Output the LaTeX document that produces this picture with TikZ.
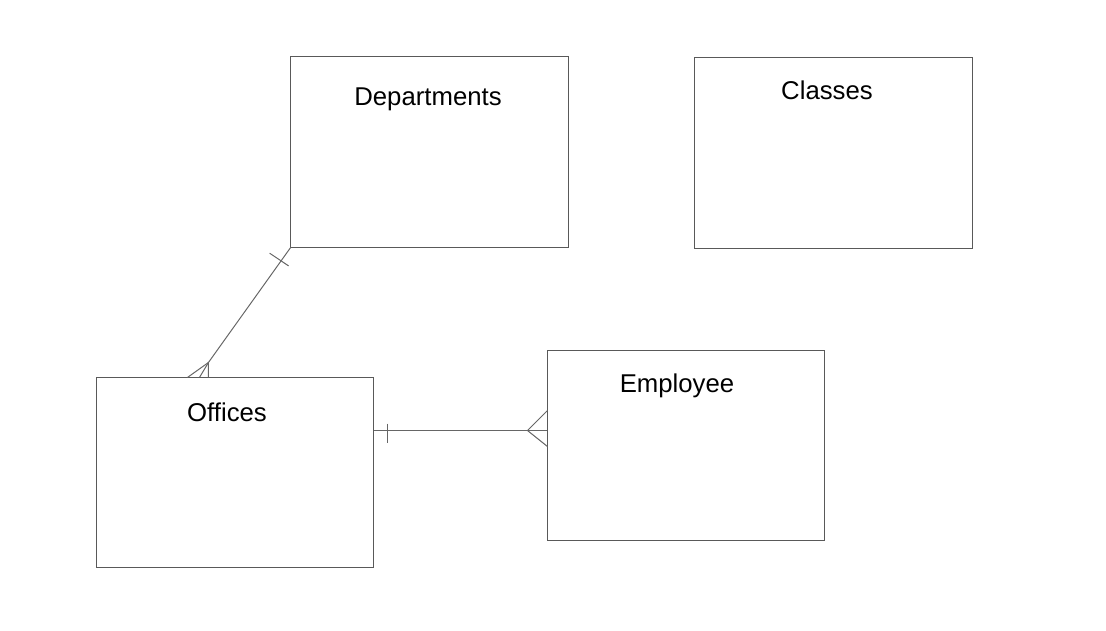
\documentclass[tikz,border=0pt]{standalone}
\usepackage{fontspec}
\setmainfont{Liberation Sans}
\usetikzlibrary{calc,positioning}

\begin{document}
\begin{tikzpicture}[x=0.025cm,y=-0.025cm,
    entity/.style={draw=black!65,line width=0.7pt,inner sep=0pt,outer sep=0pt,
                   minimum width=6.925cm,minimum height=4.75cm},
    title/.style={font=\fontsize{18.3}{22}\selectfont,inner sep=0pt},
    rel/.style={draw=black!60,line width=0.7pt}]
    \useasboundingbox (0,0) rectangle (1106,631);

    % tables
    \node[entity] (dep) at (429.5,152) {};
    \node[entity] (cls) at (833.5,153) {};
    \node[entity] (off) at (235,472.5) {};
    \node[entity] (emp) at (686,445.5) {};

    \node[title] (deplabel) at (428,99.5) {Departments};
    \node[title] (clslabel) at (827,90) {Classes};
    \node[title] (offlabel) at (227,412) {Offices};
    \node[title] (emplabel) at (677,386) {Employee};

    % Departments -- Offices
    \coordinate (offtop) at ($(off.north west)+(112,0)$);
    \coordinate (offfoot) at ($(offtop)+(0,-15)$);
    \draw[rel] (dep.south west) -- (offfoot) -- (offtop);
    \draw[rel] (offfoot) -- ($(offtop)+(-21,0)$);
    \draw[rel] (offfoot) -- ($(offtop)+(-9,0)$);
    \coordinate (deptick) at ($(dep.south west)!0.12!(offfoot)$);
    \draw[rel] ($(deptick)+(-11.5,-7.7)$) -- ($(deptick)+(7.5,5)$);

    % Offices -- Employee
    \coordinate (offright) at ($(off.east)+(0,-42)$);
    \coordinate (empleft) at ($(emp.west)+(0,-15)$);
    \coordinate (empfoot) at ($(empleft)+(-20,0)$);
    \draw[rel] (offright) -- (empleft);
    \draw[rel] ($(offright)+(14,-7)$) -- ($(offright)+(14,12.5)$);
    \draw[rel] ($(empleft)+(0,-20)$) -- (empfoot) -- ($(empleft)+(0,16)$);
\end{tikzpicture}
\end{document}
